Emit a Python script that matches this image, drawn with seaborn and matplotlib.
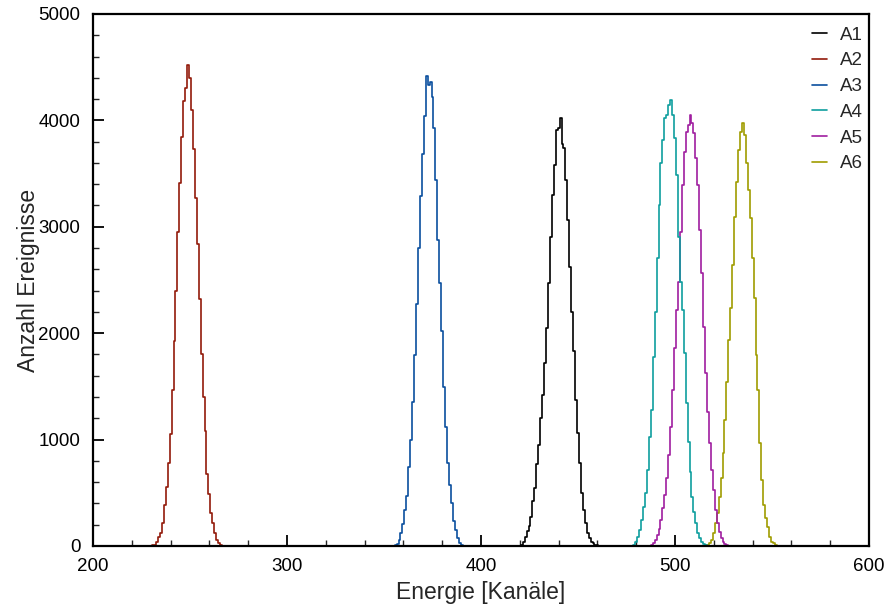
import numpy as np
import pandas as pd
import matplotlib
matplotlib.use("Agg")
import matplotlib.pyplot as plt
from matplotlib.lines import Line2D
from matplotlib.ticker import MultipleLocator
import seaborn as sns

# ---- data (counts per channel) ----
series_names = ["A1", "A2", "A3", "A4", "A5", "A6"]

A1_start = 421
A1_counts = [9, 41, 88, 141, 191, 276, 423, 542, 768, 949, 1200, 1419, 1717, 2046,
             2469, 2907, 3299, 3581, 3910, 3926, 4025, 3775, 3738, 3440, 3064, 2625,
             2196, 1836, 1372, 1059, 777, 495, 338, 213, 125, 72, 41, 25, 9, 5, 3]

A2_start = 230
A2_counts = [2, 5, 12, 41, 82, 125, 219, 385, 551, 777, 1053, 1466, 1930, 2400, 2954,
             3408, 3847, 4185, 4301, 4521, 4395, 4098, 3731, 3267, 2838, 2325, 1805,
             1397, 1081, 677, 489, 313, 213, 125, 56, 31, 8, 3]

A3_start = 355
A3_counts = [3, 8, 19, 56, 119, 204, 338, 473, 739, 996, 1357, 1795, 2274, 2804, 3289,
             3681, 4041, 4420, 4333, 4364, 4223, 3925, 3440, 2876, 2469, 2024, 1497,
             1122, 777, 573, 401, 238, 150, 72, 25, 8]

A4_start = 479
A4_counts = [9, 41, 88, 150, 244, 370, 495, 714, 1028, 1278, 1779, 2202, 2704, 3205,
             3597, 3816, 4019, 4051, 4145, 4192, 4051, 3831, 3487, 2907, 2484, 2218,
             1811, 1341, 980, 699, 463, 323, 213, 119, 72, 41, 19, 5]

A5_start = 488
A5_counts = [9, 25, 56, 103, 157, 244, 354, 479, 636, 855, 1121, 1466, 1858, 2218,
             2484, 2954, 3393, 3706, 3894, 3957, 4051, 3973, 3878, 3644, 3393, 2970,
             2563, 2061, 1623, 1262, 965, 714, 526, 338, 213, 135, 72, 41, 19, 9]

A6_start = 515
A6_counts = [3, 5, 9, 25, 56, 119, 213, 307, 463, 636, 871, 1184, 1545, 1936, 2234,
             2641, 3095, 3424, 3722, 3894, 3979, 3863, 3597, 3346, 3080, 2704, 2328,
             1795, 1466, 965, 620, 385, 260, 181, 88, 41, 25, 9]

colors = {"A1": "#000000", "A2": "#921a0a", "A3": "#0a4f9e",
          "A4": "#0e9e9e", "A5": "#a01ea0", "A6": "#a09c00"}

x_ticks = [200, 300, 400, 500, 600]
y_ticks = [0, 1000, 2000, 3000, 4000, 5000]

# ---- build table ----
starts = [A1_start, A2_start, A3_start, A4_start, A5_start, A6_start]
counts = [A1_counts, A2_counts, A3_counts, A4_counts, A5_counts, A6_counts]
frames = []
for name, s, c in zip(series_names, starts, counts):
    frames.append(pd.DataFrame({"channel": np.arange(s, s + len(c)),
                                "count": c, "series": name}))
df = pd.concat(frames, ignore_index=True)

# ---- plot ----
sns.set_theme(style="white")
plt.rcParams["font.family"] = ["Liberation Sans", "DejaVu Sans"]

fig = plt.figure(figsize=(8.89, 6.07), dpi=100)
ax = fig.add_axes([0.1046, 0.1005, 0.8729, 0.8765])

sns.histplot(data=df, x="channel", weights="count", hue="series",
             hue_order=series_names, palette=colors, discrete=True,
             common_bins=False, element="step", fill=False, linewidth=1.2,
             legend=False, ax=ax)

ax.set_xlim(200, 600)
ax.set_ylim(0, 5000)
ax.set_xticks(x_ticks)
ax.set_yticks(y_ticks)
ax.xaxis.set_minor_locator(MultipleLocator(20))
ax.yaxis.set_minor_locator(MultipleLocator(200))
ax.tick_params(axis="both", which="major", direction="in", length=8, width=1.3,
               labelsize=13.5, colors="black", pad=9)
ax.tick_params(axis="both", which="minor", direction="in", length=4, width=1.0)
ax.tick_params(bottom=True, left=True, top=False, right=False, which="both")
for sp in ax.spines.values():
    sp.set_visible(True)
    sp.set_color("black")
    sp.set_linewidth(1.6)

ax.set_xlabel("Energie [Kanäle]", fontsize=16.5, labelpad=4)
ax.set_ylabel("Anzahl Ereignisse", fontsize=16.5, labelpad=-1)

handles = [Line2D([], [], color=colors[n], lw=1.2) for n in series_names]
ax.legend(handles, series_names, loc="upper right", frameon=False, fontsize=13.5,
          handlelength=0.8, handletextpad=0.7, labelspacing=0.46,
          borderaxespad=0.0, borderpad=0.3, bbox_to_anchor=(1.0, 0.987))

fig.savefig("out.png", dpi=100)
